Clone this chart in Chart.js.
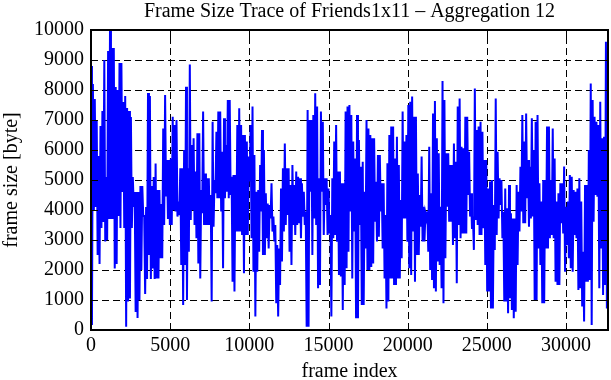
<!DOCTYPE html>
<html><head><meta charset="utf-8">
<script src="https://cdn.jsdelivr.net/npm/chart.js@4.4.0/dist/chart.umd.min.js"></script>
<style>html,body{margin:0;padding:0;background:#fff;overflow:hidden;}</style>
</head><body>
<canvas id="c" width="611" height="380"></canvas>
<script>
const chartTitle = 'Frame Size Trace of Friends1x11 \u2013 Aggregation 12';
const xLabel = 'frame index';
const yLabel = 'frame size [byte]';
const frameStep = 60;
const xMax = 32650;
const xTickValues = [0, 5000, 10000, 15000, 20000, 25000, 30000];
const yTickValues = [0, 1000, 2000, 3000, 4000, 5000, 6000, 7000, 8000, 9000, 10000];

// frame sizes [byte] in eight consecutive stretches (~4080 frames each)
const sizes0to4k = [8800,170, 8200,4000, 7700,4100, 7000,2500, 5800,2200, 6800,3400, 7300,3600, 9000,2950, 5100,3000, 9300,3700, 10000,3700, 9400,3700, 9400,2050, 8100,2200, 8000,3800, 8900,3400, 8900,4600, 7600,3400, 7800,110, 7400,950, 7300,1050, 7100,3400, 5100,4100, 4600,600, 4600,400, 4600,1000, 4800,2000, 4800,3800, 3800,1200, 4100,1700, 7900,2500, 7800,1700, 4800,2050, 5100,1700];
const sizes4to8k = [5550,1720, 4670,1720, 4670,2390, 4200,2390, 6720,3500, 7830,4450, 5670,3700, 5670,3500, 5720,3500, 7110,4000, 6830,3950, 7000,3780, 4280,3830, 5390,2170, 5390,830, 6000,2170, 8110,1000, 5390,2610, 8850,3670, 6170,4000, 6390,3500, 5280,3060, 6560,2220, 6560,1720, 4670,3890, 7280,3500, 5220,3500, 5060,3500, 5060,3500, 4500,950, 6940,3440, 5000,4560, 6610,4390, 7280,4390];
const sizes8to12k = [7280,3950, 5940,2060, 7060,4390, 6170,4610, 7670,4390, 7670,4500, 5110,1610, 5170,1280, 5170,3280, 6830,3280, 7390,3280, 6830,3170, 6500,1890, 6500,3170, 6280,3170, 5780,4950, 6830,3060, 7450,1940, 5830,450, 4610,1940, 4670,2610, 5500,3950, 6670,2500, 6000,2500, 4560,3060, 4220,2720, 4170,3720, 4890,3280, 3780,2950, 3500,890, 2830,450, 2720,1500, 4720,2280, 5390,3280];
const sizes12to16k = [6220,3500, 5390,3830, 5390,2610, 4830,2170, 5500,3500, 4830,3170, 5280,3500, 5110,3560, 5060,3060, 4890,3780, 4610,3500, 3950,110, 7330,110, 7000,4610, 7000,2500, 7170,3720, 7890,3500, 7450,1390, 5060,1500, 7280,4610, 6940,3170, 5060,4170, 5060,3170, 4720,3220, 3830,450, 5060,3060, 6280,3170, 6830,2940, 5280,1830, 5280,1780, 4890,670, 4890,1500, 7280,2060, 7450,2610];
const sizes16to20k = [7500,3950, 7170,1720, 6280,3280, 5720,390, 7170,390, 6330,3500, 5440,830, 5610,830, 4610,2720, 7000,2000, 6720,2000, 6500,2100, 6390,2220, 6390,3610, 4940,2950, 5830,3110, 5830,3950, 4890,2720, 4890,1720, 3830,720, 5560,950, 6500,1720, 6780,1720, 6780,1500, 5720,1500, 6440,1720, 5500,1720, 4330,2390, 7280,3720, 6280,3720, 6500,2940, 7500,2060, 7610,1830, 7780,3280];
const sizes20to24k = [7110,1610, 7110,2500, 5220,2500, 4500,3440, 5780,2950, 4110,2950, 3890,3720, 3950,2610, 6110,2000, 4560,1670, 7220,1390, 7630,1280, 6390,2280, 5890,2170, 4110,1390, 8300,890, 7670,2390, 5890,4110, 5890,3610, 5500,3610, 5500,2830, 6220,3060, 5610,1560, 7450,3500, 7720,3060, 6110,3220, 6060,3220, 7110,3220, 7110,4500, 5940,3780, 4560,3370, 3780,2670, 8050,3670, 6670,3500];
const sizes24to28k = [6780,3170, 6940,3170, 6610,3390, 5670,2170, 5670,1280, 4720,1280, 4950,720, 5000,720, 4170,2670, 7720,3170, 5940,3720, 5060,4170, 5000,3060, 3940,950, 4720,950, 4060,560, 4830,1060, 3890,670, 3720,390, 3720,610, 4830,2170, 4610,3280, 5440,3950, 7170,3560, 6280,3560, 7220,4390, 5670,3440, 5440,3720, 7060,3780, 6000,1000, 6940,1000, 7170,2720, 4890,2170, 4280,890];
const sizes28kToEnd = [5000,890, 5000,2720, 6780,2720, 6780,3060, 5000,3170, 6720,3060, 5720,1610, 4280,1500, 4560,1500, 4890,3560, 4890,3220, 5450,1940, 4110,2830, 4280,2390, 5170,2060, 5110,1940, 4670,3170, 4610,3060, 4720,1330, 5060,1390, 4280,780, 2610,280, 4830,1610, 4830,1610, 6000,1670, 8220,170, 7670,3610, 7110,4500, 6940,4440, 6830,1390, 7610,2720, 6390,1170, 6440,1500, 9610,720, 4170];

const frameSizes = [].concat(sizes0to4k, sizes4to8k, sizes8to12k, sizes12to16k, sizes16to20k, sizes20to24k, sizes24to28k, sizes28kToEnd);

const serif = 'Liberation Serif, Times New Roman, serif';

const gridPlugin = {
  id: 'gpGrid',
  beforeDatasetsDraw(chart) {
    const {ctx, chartArea: a, scales: {x, y}} = chart;
    ctx.save();
    ctx.strokeStyle = '#000';
    ctx.lineWidth = 1;
    ctx.setLineDash([7, 4]);
    x.ticks.forEach(t => {
      const px = Math.round(x.getPixelForValue(t.value)) + 0.5;
      if (px <= a.left + 2 || px >= a.right - 2) return;
      ctx.beginPath(); ctx.moveTo(px, a.bottom); ctx.lineTo(px, a.top); ctx.stroke();
    });
    y.ticks.forEach(t => {
      const py = Math.round(y.getPixelForValue(t.value)) + 0.5;
      if (py <= a.top + 2 || py >= a.bottom - 2) return;
      ctx.beginPath(); ctx.moveTo(a.left, py); ctx.lineTo(a.right, py); ctx.stroke();
    });
    ctx.restore();
  },
  afterDatasetsDraw(chart) {
    const {ctx, chartArea: a, scales: {x, y}} = chart;
    const L = 7;
    ctx.save();
    ctx.strokeStyle = '#000';
    ctx.setLineDash([]);
    ctx.lineWidth = 1;
    x.ticks.forEach(t => {
      const px = Math.round(x.getPixelForValue(t.value)) + 0.5;
      ctx.beginPath();
      ctx.moveTo(px, a.bottom); ctx.lineTo(px, a.bottom - L);
      ctx.moveTo(px, a.top); ctx.lineTo(px, a.top + L);
      ctx.stroke();
    });
    y.ticks.forEach(t => {
      const py = Math.round(y.getPixelForValue(t.value)) + 0.5;
      ctx.beginPath();
      ctx.moveTo(a.left, py); ctx.lineTo(a.left + L, py);
      ctx.moveTo(a.right, py); ctx.lineTo(a.right - L, py);
      ctx.stroke();
    });
    ctx.lineWidth = 2;
    ctx.strokeRect(a.left, a.top, a.right - a.left, a.bottom - a.top);
    ctx.restore();
  }
};

new Chart(document.getElementById('c'), {
  type: 'line',
  data: {
    datasets: [{
      data: frameSizes.map((v, i) => ({x: i * frameStep, y: v})),
      borderColor: '#0000ff',
      borderWidth: 2,
      pointRadius: 0,
      tension: 0,
      fill: false
    }]
  },
  options: {
    responsive: false,
    animation: false,
    devicePixelRatio: 1,
    layout: {padding: {left: 0, right: 3, top: 0, bottom: 0}},
    plugins: {
      legend: {display: false},
      tooltip: {enabled: false},
      title: {
        display: true,
        text: chartTitle,
        color: '#000',
        fullSize: false,
        font: {family: serif, size: 20, weight: 'normal', lineHeight: 1.2},
        padding: {top: 0, bottom: 6}
      }
    },
    scales: {
      x: {
        type: 'linear',
        min: 0,
        max: xMax,
        afterBuildTicks: s => { s.ticks = xTickValues.map(v => ({value: v})); },
        afterFit: s => { s.height = 50; },
        grid: {display: false, drawTicks: false},
        border: {display: false},
        ticks: {color: '#000', padding: 4, maxRotation: 0, font: {family: serif, size: 20, lineHeight: 1.2}, callback: v => String(v)},
        title: {display: true, text: xLabel, color: '#000', font: {family: serif, size: 20, lineHeight: 0.8}, padding: {top: 0, bottom: 0}}
      },
      y: {
        type: 'linear',
        min: 0,
        max: 10000,
        afterBuildTicks: s => { s.ticks = yTickValues.map(v => ({value: v})); },
        afterFit: s => { s.width = 91; },
        grid: {display: false, drawTicks: false},
        border: {display: false},
        ticks: {color: '#000', padding: 7, font: {family: serif, size: 20}, callback: v => String(v)},
        title: {display: true, text: yLabel, color: '#000', font: {family: serif, size: 20, lineHeight: 1.2}, padding: {top: 0, bottom: 0}}
      }
    }
  },
  plugins: [gridPlugin]
});
</script>
</body></html>
